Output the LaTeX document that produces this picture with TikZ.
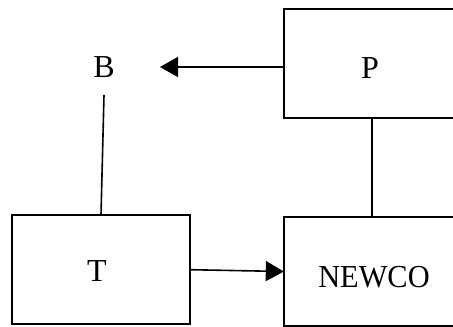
\documentclass[tikz,border=0pt]{standalone}
\usepackage{fontspec}
\setmainfont{Liberation Serif}
\usetikzlibrary{arrows.meta}
\begin{document}
\begin{tikzpicture}[x=1pt,y=-1pt,
  box/.style={draw,line width=2pt,inner sep=0pt,outer sep=0pt,minimum height=109pt},
  lbl/.style={inner sep=0pt,outer sep=0pt,font=\fontsize{32}{38}\selectfont},
  conn/.style={line width=1.6pt},
  arr/.style={conn,-{Triangle[length=18pt,width=20pt]}}]
\useasboundingbox (0,0) rectangle (453,327);
\node[box,minimum width=178pt] (T) at (101,269.7) {};
\node[box,minimum width=172pt] (P) at (369.8,63.8) {};
\node[box,minimum width=172pt] (N) at (369.8,271.5) {};
\node[lbl,minimum width=112pt,minimum height=56pt] (B) at (104,67) {B};
\node[lbl] (Pl) at (370,68.5) {P};
\node[lbl] (Tl) at (97,271.5) {T};
\node[lbl] (Nl) at (374,277.5) {\scalebox{0.95}[1]{NEWCO}};
\draw[arr] (P.west |- 0,67) -- (B.east |- 0,67);
\draw[conn] (B.south) -- (T.north);
\draw[conn] (P.south -| 372,0) -- (N.north -| 372,0);
\draw[arr] (T.east) -- (N.west);
\end{tikzpicture}
\end{document}
